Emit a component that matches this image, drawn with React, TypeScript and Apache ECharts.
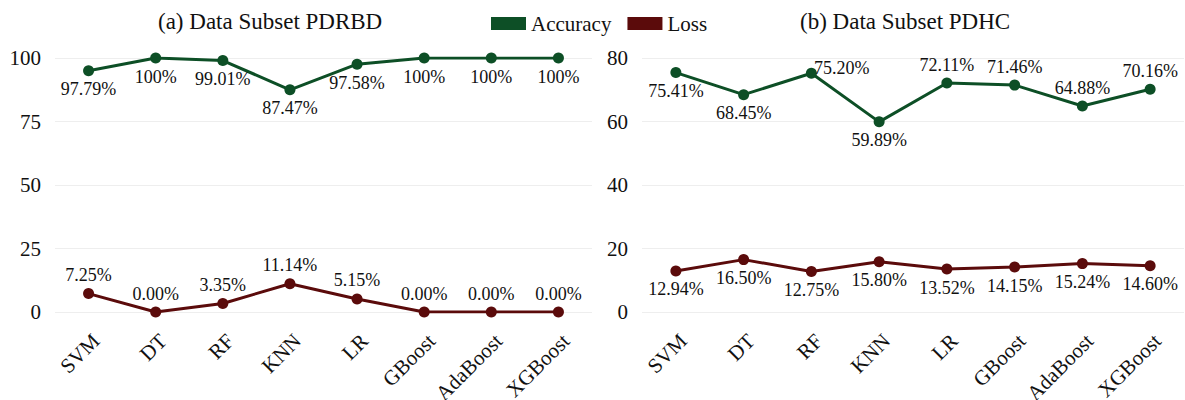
import React, { useEffect, useRef } from "react";
import * as echarts from "echarts";

const categories = ["SVM", "DT", "RF", "KNN", "LR", "GBoost", "AdaBoost", "XGBoost"];

// Panel (a) PDRBD
const accA = [95.0, 100, 99.01, 87.47, 97.58, 100, 100, 100];
const accALabels = ["97.79%", "100%", "99.01%", "87.47%", "97.58%", "100%", "100%", "100%"];
const lossA = [7.25, 0, 3.35, 11.14, 5.15, 0, 0, 0];
const lossALabels = ["7.25%", "0.00%", "3.35%", "11.14%", "5.15%", "0.00%", "0.00%", "0.00%"];

// Panel (b) PDHC
const accB = [75.41, 68.45, 75.2, 59.89, 72.11, 71.46, 64.88, 70.16];
const accBLabels = ["75.41%", "68.45%", "75.20%", "59.89%", "72.11%", "71.46%", "64.88%", "70.16%"];
const lossB = [12.94, 16.5, 12.75, 15.8, 13.52, 14.15, 15.24, 14.6];
const lossBLabels = ["12.94%", "16.50%", "12.75%", "15.80%", "13.52%", "14.15%", "15.24%", "14.60%"];

const titles = ["(a) Data Subset PDRBD", "(b) Data Subset PDHC"];

const GREEN = "#0d4f26";
const RED = "#5b0b0b";
const FONT = "Liberation Serif";

export default function App() {
  const ref = useRef<HTMLDivElement>(null);
  useEffect(() => {
    if (!ref.current) return;
    const chart = echarts.init(ref.current, null, { renderer: "svg" });

    const allBottom = categories.map(() => "bottom");
    const allTop = categories.map(() => "top");
    const accBPos = ["bottom", "bottom", "right", "bottom", "top", "top", "top", "top"];

    const mk = (vals: number[], labels: string[], positions: string[]) =>
      vals.map((v, i) => ({
        value: v,
        label: {
          formatter: labels[i],
          position: positions[i] as any,
          ...(positions[i] === "right" ? { offset: [-4, -5], distance: 1 } : {}),
        },
      }));

    const labelStyle = { show: true, fontFamily: FONT, fontSize: 18, color: "#111", distance: 4 };

    const lineSeries = (name: string, color: string, idx: number, data: any[]) => ({
      name,
      type: "line",
      xAxisIndex: idx,
      yAxisIndex: idx,
      data,
      symbol: "circle",
      symbolSize: 11,
      lineStyle: { color, width: 3 },
      itemStyle: { color },
      label: labelStyle,
    });

    const xAxisCommon = {
      type: "category",
      data: categories,
      axisLine: { show: false },
      axisTick: { show: false },
      axisLabel: {
        rotate: 45,
        fontFamily: FONT,
        fontSize: 21,
        color: "#111",
        margin: 18,
        interval: 0,
        verticalAlign: "top",
      },
    };
    const yAxisCommon = {
      type: "value",
      axisLine: { show: false },
      axisTick: { show: false },
      axisLabel: { fontFamily: FONT, fontSize: 21, color: "#111", margin: 14 },
      splitLine: { lineStyle: { color: "#eeeeee", width: 1 } },
    };

    chart.setOption({
      animation: false,
      title: [
        { text: titles[0], left: 153, top: 5, textStyle: { fontFamily: FONT, fontSize: 23, fontWeight: "normal", color: "#111" } },
        { text: titles[1], left: 795, top: 5, textStyle: { fontFamily: FONT, fontSize: 23, fontWeight: "normal", color: "#111" } },
      ],
      legend: {
        data: ["Accuracy", "Loss"],
        left: 486,
        top: 8,
        icon: "rect",
        itemWidth: 35,
        itemHeight: 13,
        itemGap: 16,
        textStyle: { fontFamily: FONT, fontSize: 21, color: "#111" },
      },
      grid: [
        { left: 55, top: 58, width: 537, height: 254, outerBoundsMode: "none", containLabel: false },
        { left: 642, top: 58, width: 542, height: 254, outerBoundsMode: "none", containLabel: false },
      ],
      xAxis: [
        { ...xAxisCommon, gridIndex: 0 },
        { ...xAxisCommon, gridIndex: 1 },
      ],
      yAxis: [
        { ...yAxisCommon, gridIndex: 0, min: 0, max: 100, interval: 25 },
        { ...yAxisCommon, gridIndex: 1, min: 0, max: 80, interval: 20 },
      ],
      series: [
        lineSeries("Accuracy", GREEN, 0, mk(accA, accALabels, allBottom)),
        lineSeries("Loss", RED, 0, mk(lossA, lossALabels, allTop)),
        lineSeries("Accuracy", GREEN, 1, mk(accB, accBLabels, accBPos)),
        lineSeries("Loss", RED, 1, mk(lossB, lossBLabels, allBottom)),
      ],
    });
    return () => chart.dispose();
  }, []);
  return (
    <div
      ref={ref}
      style={{ position: "fixed", left: 0, top: 0, width: 1185, height: 400, background: "#fff" }}
    />
  );
}
